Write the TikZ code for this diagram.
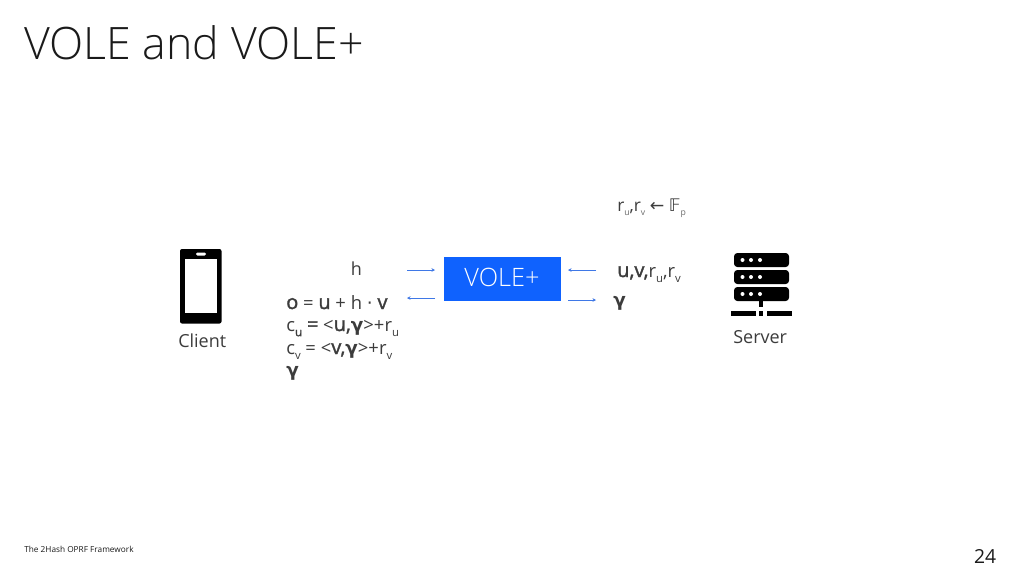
\documentclass[tikz,border=0pt]{standalone}
\usepackage{fontspec}
\setmainfont{Open Sans}
\newfontfamily\lightf{Open Sans Light}
\newfontfamily\symf{DejaVu Sans}
\newfontfamily\semif{Open Sans}[FakeBold=1.6]
\usetikzlibrary{arrows.meta}
\definecolor{ink}{HTML}{1A1A1A}
\definecolor{labelgray}{HTML}{3C3C3C}
\definecolor{subgray}{HTML}{6A6A6A}
\definecolor{voleblue}{HTML}{0F62FE}
\definecolor{arrowblue}{HTML}{3F78E6}
\newcommand{\bg}{{\symf\bfseries γ}}
\newcommand{\sm}[1]{{\semif\fontsize{15}{15}\selectfont #1}}
\newcommand{\subs}[1]{\raisebox{-0.28em}{\fontsize{8.5}{9}\selectfont #1}}
\newcommand{\subb}[1]{\raisebox{-0.28em}{\semif\fontsize{8.8}{9}\selectfont #1}}
\newcommand{\subt}[1]{\raisebox{-0.25em}{\textcolor{subgray}{\fontsize{6.5}{7}\selectfont #1}}}
\tikzset{
  x=0.75pt,y=-0.75pt,
  title/.style={anchor=base west,inner sep=0,text=ink,font=\lightf\fontsize{33.5}{36}\selectfont},
  lab/.style={anchor=base west,inner sep=0,text=labelgray,font=\fontsize{13.5}{15}\selectfont},
  mathlab/.style={anchor=base west,inner sep=0,text=labelgray,font=\fontsize{13.8}{15}\selectfont},
  flow/.style={draw=arrowblue,line width=0.75pt,-{Stealth[length=2.6pt,width=2.6pt]}},
  small/.style={anchor=base west,inner sep=0,text=ink,font=\fontsize{6.2}{8}\selectfont},
  blk/.style={fill=black,draw=none},
  wht/.style={fill=white,draw=none},
}
\begin{document}
\begin{tikzpicture}
\useasboundingbox (0,0) rectangle (1024,576);
\fill[white] (0,0) rectangle (1024,576);
\node[title] (ttl) at (24,59) {VOLE and VOLE+};
\node[small] (foot) at (24,552) {The 2Hash OPRF Framework};
\node[anchor=base east,inner sep=0,text=ink,font=\fontsize{14.5}{16}\selectfont] (pg) at (996.5,563) {24};
% phone
\fill[blk,rounded corners=1.5pt] (180,249) rectangle (221.5,323.5);
\fill[wht] (185,259) rectangle (216.5,313);
\fill[wht,rounded corners=1pt] (196,252.5) rectangle (206,255.5);
\node[lab] (client) at (178,347) {Client};
% server
\foreach \yy in {253,270,287}{
  \fill[blk,rounded corners=2.5pt] (734,\yy) rectangle (789,\yy+14);
  \foreach \xx in {742.5,751,760}{\fill[wht] (\xx,\yy+7) circle (2);}
}
\fill[blk] (759,300) rectangle (763,307);
\fill[blk] (731,311) rectangle (755.5,316);
\fill[blk] (759,311) rectangle (763,316);
\fill[blk] (767,311) rectangle (792,316);
\node[lab] (server) at (733,343) {Server};
% VOLE box
\node[fill=voleblue,draw=none,minimum width=87.75pt,minimum height=33pt,inner sep=0,text=white,font=\lightf\fontsize{19}{20}\selectfont] (vole) at (502,279) {\raisebox{2.6pt}{VOLE+}};
% left text
\node[lab] (h) at (350.5,275) {h};
\node[mathlab] (o) at (286,309) {\sm{o} = \sm{u} + h {\symf ·} \sm{v}};
\node[mathlab] (cu) at (286,331) {c\subb{u} \sm{=} <\sm{u,}\bg>+r\subs{u}};
\node[mathlab] (cv) at (286,354) {c\subs{v} = <\sm{v,}\bg>+r\subs{v}};
\node[mathlab] (gl) at (286,376) {\bg};
% right text
\node[mathlab,font=\fontsize{13}{15}\selectfont] (rr) at (617,211) {r\subt{u},r\subt{v} {\symf ←} {\symf 𝔽}\subt{p}};
\node[mathlab] (uv) at (617,277) {\sm{u,v,}r\subs{u},r\subs{v}};
\node[mathlab] (gr) at (613,306) {\bg};
% arrows
\coordinate (a1s) at (407,270); \coordinate (a1e) at (435,270);
\coordinate (a2s) at (435,298); \coordinate (a2e) at (407,298);
\coordinate (a3s) at (596,270); \coordinate (a3e) at (568,270);
\coordinate (a4s) at (568,300); \coordinate (a4e) at (596,300);
\draw[flow] (a1s) -- (a1e);
\draw[flow] (a2s) -- (a2e);
\draw[flow] (a3s) -- (a3e);
\draw[flow] (a4s) -- (a4e);
\end{tikzpicture}
\end{document}
